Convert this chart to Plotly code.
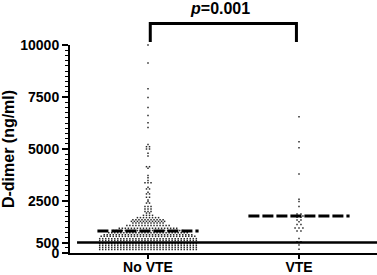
import plotly.graph_objects as go

# ---------------- data ----------------
categories = ["No VTE", "VTE"]

novte_values = [10000, 9130, 7900, 7480, 7000, 6610, 6260, 6030, 5220, 5110, 5000,
                4790, 4660, 4150, 4070, 3720, 3620, 3480, 3380, 3160, 3080, 2920,
                2840, 2680, 2550, 2470, 2400, 2230, 2120, 2000, 1920, 1810, 1700,
                1600, 1520, 1440, 1320, 1190, 1080, 975, 880, 800, 690, 600, 450,
                360, 264, 168]
novte_counts = [1, 1, 1, 1, 1, 1, 1, 1, 1, 2, 2,
                1, 1, 2, 1, 1, 1, 1, 3, 1, 2, 1,
                2, 2, 1, 1, 2, 3, 3, 3, 2, 4, 8,
                11, 12, 11, 15, 20, 24, 27, 30, 32, 33, 33, 33,
                33, 33, 33]

vte_values = [6550, 5350, 5060, 3800, 2580, 2470, 2230, 1880, 1780, 1720, 1590,
              1500, 1370, 1200, 1060, 700, 540, 380, 180]
vte_counts = [1, 1, 1, 1, 1, 1, 1, 2, 3, 2, 2,
              1, 2, 3, 2, 1, 2, 1, 1]

medians = [1060, 1780]
reference_level = 500
ytick_vals = [0, 500, 2500, 5000, 7500, 10000]
ytick_text = ["0", "500", "2500", "5000", "7500", "10000"]
ytick_minor = list(range(0, 10001, 250))
p_label = "<i>p</i>=0.001"

FONT = "Arial, 'Liberation Sans', sans-serif"


def swarm(center, values, counts, step):
    xs, ys = [], []
    for v, c in zip(values, counts):
        for k in range(c):
            xs.append(center + (k - (c - 1) / 2) * step)
            ys.append(v)
    return xs, ys


fig = go.Figure()

for i, (vals, cnts) in enumerate([(novte_values, novte_counts), (vte_values, vte_counts)]):
    xs, ys = swarm(i, vals, cnts, 0.02 if i == 0 else 0.026)
    fig.add_trace(go.Scatter(
        x=xs, y=ys, mode="markers",
        marker=dict(size=1.5, color="#2a2a2a", symbol="square", line=dict(width=0)),
        cliponaxis=False, showlegend=False, hoverinfo="y"))

for i, m in enumerate(medians):
    fig.add_trace(go.Scatter(
        x=[i - 0.335, i + 0.335], y=[m, m], mode="lines",
        line=dict(color="black", width=3, dash="11px,3px"),
        showlegend=False, hoverinfo="skip"))

# reference line at 500 ng/ml
fig.add_shape(type="line", xref="x", yref="y", x0=-0.47, x1=1.5166,
              y0=reference_level, y1=reference_level,
              line=dict(color="black", width=2.5), layer="above")

# significance bracket
fig.add_shape(type="path", xref="x", yref="paper",
              path="M 0.015,1.014 L 0.015,1.103 L 0.983,1.103 L 0.983,1.014",
              line=dict(color="black", width=3))
fig.add_annotation(x=0.48, y=1.175, xref="x", yref="paper", text=p_label,
                   showarrow=False, font=dict(family=FONT, size=16, color="black",
                                              weight="bold"),
                   xanchor="center", yanchor="middle")

fig.update_layout(
    width=377, height=275,
    margin=dict(l=70, r=0, t=45, b=22),
    plot_bgcolor="white", paper_bgcolor="white",
    font=dict(family=FONT, color="black"),
    xaxis=dict(range=[-0.5166, 1.5166], tickvals=[0, 1], ticktext=categories,
               automargin=False,
               showline=True, linewidth=2, linecolor="black",
               ticks="outside", ticklen=4, tickwidth=2, tickcolor="black",
               ticklabelstandoff=-4,
               tickfont=dict(family=FONT, size=14, color="black", weight="bold"),
               showgrid=False, zeroline=False),
    yaxis=dict(range=[0, 10000], tickvals=ytick_vals, ticktext=ytick_text,
               automargin=False,
               showline=True, linewidth=2, linecolor="black",
               ticks="outside", ticklen=6, tickwidth=2, tickcolor="black",
               tickfont=dict(family=FONT, size=14, color="black", weight="bold"),
               minor=dict(tickvals=ytick_minor, ticks="outside", ticklen=3,
                          tickwidth=1, tickcolor="black", showgrid=False),
               showgrid=False, zeroline=False,
               title=dict(text="D-dimer (ng/ml)", standoff=2,
                          font=dict(family=FONT, size=16, color="black",
                                    weight="bold"))),
)

fig.write_html("out.html",
               config={"displayModeBar": False},
               post_script="document.body.style.margin='0px';document.body.style.overflow='hidden';")
